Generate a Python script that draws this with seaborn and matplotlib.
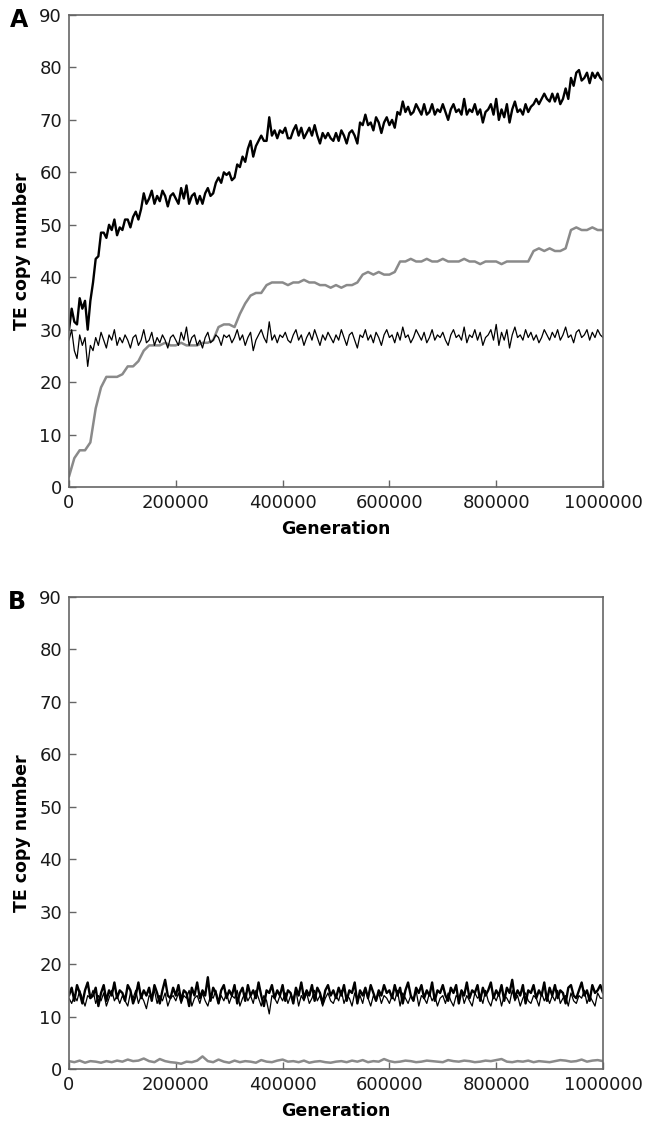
import numpy as np
import pandas as pd
import matplotlib
matplotlib.use("Agg")
import matplotlib.pyplot as plt
from matplotlib.ticker import FuncFormatter
import seaborn as sns

# generations: fine grid (every 5000) and coarse grid (every 10000)
gen_fine = list(range(0, 1000001, 5000))
gen_coarse = list(range(0, 1000001, 10000))

# panel A: total copies (thick black), sampled every 5000
a_total = [
    30, 34, 31.5, 31, 36, 34, 35.5, 30, 35.5, 39, 43.5, 44, 48.5, 48.5, 47.5, 50, 49, 51, 48, 49.5,
    49, 51, 51, 49.5, 51.5, 52.5, 51, 53, 56, 54, 55, 56.5, 54, 55.5, 54.5, 56.5, 55.5, 53.5, 55.5, 56,
    55, 54, 57, 55, 57.5, 54, 55.5, 56, 54, 55.5, 54, 56, 57, 55.5, 56, 58, 59, 58, 60, 59.5,
    60, 58.5, 59, 61.5, 61, 63, 62, 64.5, 66, 63, 65, 66, 67, 66, 66, 70.5, 67, 68, 66.5, 68,
    67.5, 68.5, 66.5, 66.5, 68, 69, 67, 68.5, 66.5, 67.5, 68.5, 67, 69, 67, 65.5, 67.5, 66.5, 67.5, 66.5, 66,
    67.5, 66, 68, 67, 65.5, 67.5, 68, 67, 65.5, 69.5, 69, 71, 69, 69.5, 68, 70.5, 69.5, 67.5, 69.5, 70.5,
    69, 70, 68.5, 71.5, 71, 73.5, 71.5, 72.5, 71, 71.5, 73, 72, 71, 73, 71, 71.5, 73, 71, 72, 71.5,
    73, 71.5, 70, 72, 73, 71.5, 72, 71, 74, 71, 72, 71.5, 73, 71, 72, 69.5, 71.5, 72, 73, 71,
    74, 70, 72, 70.5, 73, 69.5, 72, 73.5, 71.5, 72, 71, 73, 71.5, 72.5, 73, 74, 73, 74, 75, 74,
    73.5, 75, 73.5, 75, 73, 74, 76, 74, 78, 76.5, 79, 79.5, 77.5, 78, 79, 77, 79, 78, 79, 78,
    77.5,
]

# panel A: first class (thin black), sampled every 5000
a_thin = [
    28, 30, 26, 24.5, 29, 27, 28.5, 23, 27, 26, 28.5, 27, 29.5, 28, 26.5, 29, 28, 30, 27, 28.5,
    27.5, 29, 28, 26.5, 28.5, 29, 27, 28, 30, 27.5, 28, 29.5, 27, 28.5, 27.5, 29, 28, 26.5, 28.5, 29,
    28, 27, 29.5, 28, 30.5, 27, 28.5, 29, 27, 28, 26.5, 28.5, 29.5, 27.5, 28, 29, 28.5, 27, 29, 28.5,
    29, 27.5, 28.5, 30, 28, 29, 27, 28.5, 29.5, 26, 28, 29, 30, 28.5, 27.5, 31.5, 28, 29, 27.5, 29,
    28.5, 29.5, 28, 27.5, 29, 30, 28, 29, 27, 28.5, 29.5, 28, 30, 28.5, 27, 29, 28, 29.5, 28.5, 27.5,
    29, 28, 30, 28.5, 27, 29, 29.5, 28, 26.5, 29, 28.5, 30, 28, 29, 27.5, 29.5, 28.5, 27, 29, 30,
    28.5, 29, 27.5, 29.5, 28, 30.5, 28.5, 29, 27.5, 28.5, 30, 29, 28, 29.5, 27.5, 28.5, 30, 28, 29, 28.5,
    29.5, 28, 27, 29, 30, 28.5, 29, 28, 30.5, 27.5, 29, 28.5, 30, 28, 29.5, 27, 28.5, 29, 30, 28,
    31, 27, 29.5, 28, 30, 26.5, 29, 30.5, 28.5, 29, 28, 30, 28.5, 29.5, 28, 29, 27.5, 28.5, 30, 29,
    28, 29.5, 28.5, 30, 28, 29, 30.5, 28.5, 29, 27.5, 29.5, 30, 28.5, 29, 30, 28, 29.5, 28.5, 30, 29,
    28.5,
]

# panel A: second class (grey), sampled every 10000
a_grey = [
    2, 5.5, 7, 7, 8.5, 15, 19, 21, 21, 21,
    21.5, 23, 23, 24, 26, 27, 27, 27, 27.5, 27,
    27, 27.5, 27, 27, 27, 27.5, 27.5, 28, 30.5, 31,
    31, 30.5, 33, 35, 36.5, 37, 37, 38.5, 39, 39,
    39, 38.5, 39, 39, 39.5, 39, 39, 38.5, 38.5, 38,
    38.5, 38, 38.5, 38.5, 39, 40.5, 41, 40.5, 41, 40.5,
    40.5, 41, 43, 43, 43.5, 43, 43, 43.5, 43, 43,
    43.5, 43, 43, 43, 43.5, 43, 43, 42.5, 43, 43,
    43, 42.5, 43, 43, 43, 43, 43, 45, 45.5, 45,
    45.5, 45, 45, 45.5, 49, 49.5, 49, 49, 49.5, 49,
    49,
]

# panel B
b_total = [
    14, 15.5, 13, 16, 14.5, 12.5, 15, 16.5, 13.5, 14, 15.5, 12, 14.5, 16, 13, 15, 14, 16.5, 13.5, 15,
    14.5, 13, 16, 15, 12.5, 14, 16.5, 13.5, 15, 14, 15.5, 13, 16, 14.5, 12.5, 15, 17, 14, 13.5, 15.5,
    14, 16, 13, 15, 14.5, 12, 15.5, 14, 16.5, 13.5, 15, 14, 17.5, 13, 15.5, 14.5, 12.5, 15, 16, 13.5,
    15, 14, 16, 12.5, 14.5, 15.5, 13, 16, 14, 15, 13.5, 16.5, 14, 12, 15, 14.5, 16, 13.5, 15, 14,
    16, 13, 15, 14.5, 12.5, 15.5, 14, 16.5, 13.5, 15, 14, 16, 13, 15.5, 14.5, 12.5, 15, 16, 14, 15,
    13.5, 15.5, 14, 16, 13, 15, 14.5, 16.5, 12.5, 15, 14, 15.5, 13.5, 16, 14.5, 13, 15, 14, 16, 14.5,
    15, 13.5, 16, 14, 15.5, 12.5, 15, 16.5, 14, 13, 15.5, 14.5, 16, 13.5, 15, 14, 16.5, 13, 15, 14.5,
    16, 14, 13, 15.5, 14.5, 16, 12.5, 15, 14, 16.5, 13.5, 15, 14.5, 16, 13, 15.5, 14, 15, 16.5, 13.5,
    15, 14, 16, 13, 15.5, 14.5, 17, 13.5, 15, 14, 16, 12.5, 15, 14.5, 16, 13.5, 15, 14, 16.5, 13,
    15.5, 14, 16, 13.5, 15, 14.5, 12.5, 15.5, 16, 14, 13.5, 15, 16.5, 14, 15, 13, 16, 14.5, 15, 16,
    14.5,
]

b_thin = [
    13.5, 12.5, 14, 13, 15, 13.5, 12, 14, 13.5, 15, 12.5, 14, 13, 14.5, 12, 13.5, 15, 13, 14, 12.5,
    14, 13, 12, 14.5, 13.5, 15, 12.5, 14, 13, 11.5, 14, 13.5, 15, 12.5, 14, 13, 14.5, 12, 13.5, 14,
    13, 14.5, 12.5, 14, 13.5, 15, 12, 13.5, 14, 12.5, 14.5, 13, 12, 14, 13.5, 15, 12.5, 14, 13, 14.5,
    12.5, 14, 13.5, 15, 12, 13.5, 14.5, 13, 14, 12.5, 15, 13.5, 12, 14, 13, 10.5, 14, 13.5, 12.5, 14,
    13, 14.5, 12.5, 14, 13.5, 15, 12, 14, 13, 14.5, 12.5, 13.5, 15, 13, 14, 12, 13.5, 14.5, 13, 12.5,
    14, 13, 15, 12.5, 14, 13.5, 12, 14.5, 13, 14, 12.5, 15, 13.5, 12, 14, 13, 14.5, 12.5, 14, 13.5,
    12.5, 14, 13, 15, 12, 14.5, 13.5, 12.5, 14, 13, 15, 12, 14, 13.5, 12.5, 14.5, 13, 14, 12, 13.5,
    14, 12.5, 14.5, 13, 12, 14, 13.5, 15, 12.5, 14, 13, 12, 14.5, 13.5, 14, 12.5, 15, 13, 12, 14,
    13, 14.5, 12, 14, 13.5, 12.5, 15, 13, 14, 12, 13.5, 14.5, 13, 12.5, 14, 13.5, 12, 14.5, 13, 14,
    12.5, 14, 13, 15, 12.5, 13.5, 14, 12, 14.5, 13, 12.5, 14, 13.5, 15, 12.5, 14, 13, 12, 14.5, 13.5,
    13.5,
]

b_grey = [
    1.5, 1.3, 1.6, 1.2, 1.5, 1.4, 1.2, 1.5, 1.3, 1.6, 1.4, 1.8, 1.5, 1.6, 2.0, 1.5, 1.3, 1.9, 1.5, 1.3,
    1.2, 1.0, 1.4, 1.3, 1.6, 2.4, 1.5, 1.3, 1.8, 1.4, 1.2, 1.6, 1.3, 1.5, 1.4, 1.2, 1.7, 1.4, 1.3, 1.6,
    1.8, 1.4, 1.5, 1.3, 1.6, 1.2, 1.4, 1.5, 1.3, 1.2, 1.4, 1.5, 1.3, 1.6, 1.4, 1.7, 1.3, 1.5, 1.4, 1.9,
    1.5, 1.3, 1.4, 1.6, 1.5, 1.3, 1.4, 1.6, 1.5, 1.4, 1.3, 1.7, 1.5, 1.4, 1.6, 1.5, 1.3, 1.4, 1.6, 1.5,
    1.7, 1.9, 1.4, 1.3, 1.5, 1.4, 1.6, 1.3, 1.5, 1.4, 1.3, 1.5, 1.7, 1.6, 1.4, 1.5, 1.8, 1.4, 1.6, 1.7,
    1.5,
]

x_ticks = [0, 200000, 400000, 600000, 800000, 1000000]
y_ticks = [0, 10, 20, 30, 40, 50, 60, 70, 80, 90]

sns.set_style("white")
plt.rcParams['font.family'] = ['DejaVu Sans']
plt.rcParams['text.color'] = 'black'
plt.rcParams['axes.labelcolor'] = 'black'

SPINE = '#666666'
GREY = '#8a8a8a'


def draw_panel(ax, total, thin, grey):
    """Draw one panel: grey class, thin black class, thick black total"""
    sns.lineplot(x=gen_coarse, y=grey, ax=ax, color=GREY, linewidth=1.8)
    sns.lineplot(x=gen_fine, y=thin, ax=ax, color='black', linewidth=0.9)
    sns.lineplot(x=gen_fine, y=total, ax=ax, color='black', linewidth=1.7)

    ax.set_xlim(0, 1000000)
    ax.set_ylim(0, 90)
    ax.set_xticks(x_ticks)
    ax.set_yticks(y_ticks)
    ax.xaxis.set_major_formatter(FuncFormatter(lambda v, p: f"{int(v)}"))
    ax.tick_params(direction='in', length=5, width=1.0, color=SPINE,
                   labelsize=13, labelcolor='#1a1a1a', pad=5,
                   bottom=True, left=True, top=False, right=False)
    for s in ax.spines.values():
        s.set_color(SPINE)
        s.set_linewidth(1.2)
        s.set_visible(True)
    ax.set_xlabel('Generation', fontsize=12.5, fontweight='bold', labelpad=6)
    ax.set_ylabel('TE copy number', fontsize=12.5, fontweight='bold', labelpad=6)


fig = plt.figure(figsize=(6.47, 11.26), dpi=100)
ax_a = fig.add_axes([69 / 647, 1 - 487 / 1126, 534 / 647, 472 / 1126])
ax_b = fig.add_axes([69 / 647, 1 - 1069 / 1126, 534 / 647, 472 / 1126])

draw_panel(ax_a, a_total, a_thin, a_grey)
draw_panel(ax_b, b_total, b_thin, b_grey)

fig.text(10 / 647, 1 - 20 / 1126, 'A', fontsize=17, fontweight='bold', va='center', ha='left')
fig.text(8 / 647, 1 - 602 / 1126, 'B', fontsize=17, fontweight='bold', va='center', ha='left')

fig.savefig('out.png', dpi=100)
